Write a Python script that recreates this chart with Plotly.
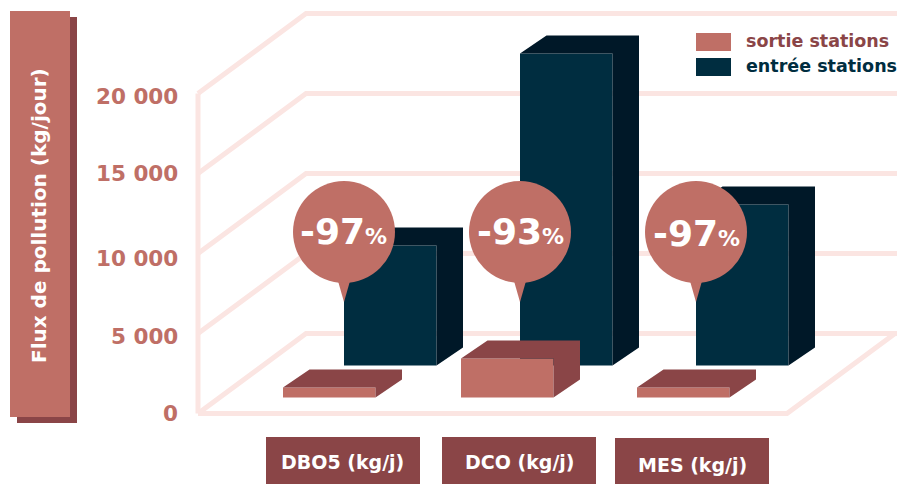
import plotly.graph_objects as go

# ---- data ----
categories = ["DBO5 (kg/j)", "DCO (kg/j)", "MES (kg/j)"]
sortie = [625, 2440, 625]
entree = [7500, 19500, 10060]
reductions = ["-97", "-93", "-97"]
tick_values = [0, 5000, 10000, 15000, 20000]
tick_labels = ["0", "5 000", "10 000", "15 000", "20 000"]
series_names = ["sortie stations", "entrée stations"]
y_title = "Flux de pollution (kg/jour)"

# ---- layout constants ----
W, H = 898, 484
PX_PER_UNIT = 0.016
Y0_PX = 413.5
FONT = "DejaVu Sans"
C_LIGHT = "#BF6F66"
C_DARK = "#8A4547"
C_NAVY = "#002D40"
C_NAVY_D = "#001828"
C_GRID = "#FBE5E2"

def val(px):
    return (Y0_PX - px) / PX_PER_UNIT

def py(px):
    return 1 - px / H

BAR_W = 92.5
DX, DY = 26.5, 18 / PX_PER_UNIT
entree_left = [344, 520, 696]
sortie_left = [283, 461, 637]
entree_base = val(365.5)
sortie_base = val(397.5)
WALL_X0, WALL_X1, FLOOR_X1, WALL_DX = 198, 897, 787, 108
WALL_DY = 5000
callout_y = val(232)
tip_y = val(302)
neck_y = val(281)

fig = go.Figure()

# wall and floor grid
shapes = []
def line(xs, ys):
    path = "M " + " L ".join(f"{x},{y}" for x, y in zip(xs, ys))
    shapes.append(dict(type="path", path=path, xref="x", yref="y", layer="below",
                       line=dict(color=C_GRID, width=5)))

for t in tick_values:
    line([WALL_X0, WALL_X0 + WALL_DX, WALL_X1], [t, t + WALL_DY, t + WALL_DY])
line([WALL_X0, WALL_X0], [0, tick_values[-1]])
line([WALL_X0, FLOOR_X1, FLOOR_X1 + WALL_DX], [0, 0, WALL_DY])

def rect(x0, y0, x1, y1, color):
    shapes.append(dict(type="rect", xref="paper", yref="paper", layer="below",
                       x0=x0 / W, x1=x1 / W, y0=py(y1), y1=py(y0),
                       fillcolor=color, line=dict(width=0)))

# axis title plate
rect(17, 17, 77, 423, C_DARK)
rect(10, 11, 70, 417, C_LIGHT)
# category plates
rect(266, 437, 420, 484, C_DARK)
rect(442, 437, 596, 484, C_DARK)
rect(615, 438, 769, 484, C_DARK)
# legend swatches
rect(696, 33, 731, 51, C_LIGHT)
rect(696, 58, 731, 76, C_NAVY)

def poly(xs, ys, color):
    fig.add_trace(go.Scatter(x=xs, y=ys, mode="lines", fill="toself", fillcolor=color,
                             line=dict(width=0), hoverinfo="skip", showlegend=False))

def bar_series(name, lefts, values, base, front, back):
    fig.add_trace(go.Bar(name=name, x=[l + BAR_W / 2 for l in lefts], y=values,
                         base=[base] * len(values), width=BAR_W,
                         marker=dict(color=front, line=dict(width=0)), showlegend=False,
                         hovertemplate="%{y}<extra>" + name + "</extra>"))
    for l, v in zip(lefts, values):
        r = l + BAR_W
        top = base + v
        poly([l, l + DX, r + DX, r + DX, r, r],
             [top, top + DY, top + DY, base + DY, base, top], back)

bar_series(series_names[1], entree_left, entree, entree_base, C_NAVY, C_NAVY_D)
bar_series(series_names[0], sortie_left, sortie, sortie_base, C_LIGHT, C_DARK)

# reduction callouts
for l in entree_left:
    poly([l - 6, l, l + 6], [neck_y, tip_y, neck_y], C_LIGHT)
fig.add_trace(go.Scatter(x=entree_left, y=[callout_y] * 3, mode="markers",
                         marker=dict(size=102, color=C_LIGHT, line=dict(width=0)),
                         hoverinfo="skip", showlegend=False))

annotations = []
def label(x, ypx, text, size, color, angle=0, anchor="center", weight=700):
    annotations.append(dict(x=x, y=py(ypx), xref="x", yref="paper", text=text, showarrow=False,
                            xanchor=anchor, yanchor="middle", textangle=angle,
                            font=dict(family=FONT, size=size, color=color, weight=weight)))

tick_px = [413, 336, 258, 173, 97]
for t, p in zip(tick_labels, tick_px):
    label(180, p, t, 21.5, C_LIGHT, anchor="right")
label(39, 216, y_title, 20, "#FFFFFF", angle=-90)
for c, x, p in zip(categories, [342.5, 520, 692], [462, 462, 465]):
    label(x, p, c, 19, "#FFFFFF")
label(744, 41, series_names[0], 17.5, C_DARK, anchor="left")
label(744, 66, series_names[1], 17.5, C_NAVY, anchor="left")
for r, x, p in zip(reductions, [343, 520, 696], [232, 232, 233]):
    label(x, p, f'{r}<span style="font-size:22px">%</span>', 36, "#FFFFFF")

fig.update_layout(
    width=W, height=H, autosize=False, margin=dict(l=0, r=0, t=0, b=0),
    paper_bgcolor="#FFFFFF", plot_bgcolor="#FFFFFF", barmode="overlay", showlegend=False,
    xaxis=dict(range=[0, W], visible=False, fixedrange=True),
    yaxis=dict(range=[val(H), val(0)], visible=False, fixedrange=True),
    shapes=shapes, annotations=annotations,
)
fig.write_html("out.html", config={"displayModeBar": False},
               post_script="document.body.style.margin='0';")
